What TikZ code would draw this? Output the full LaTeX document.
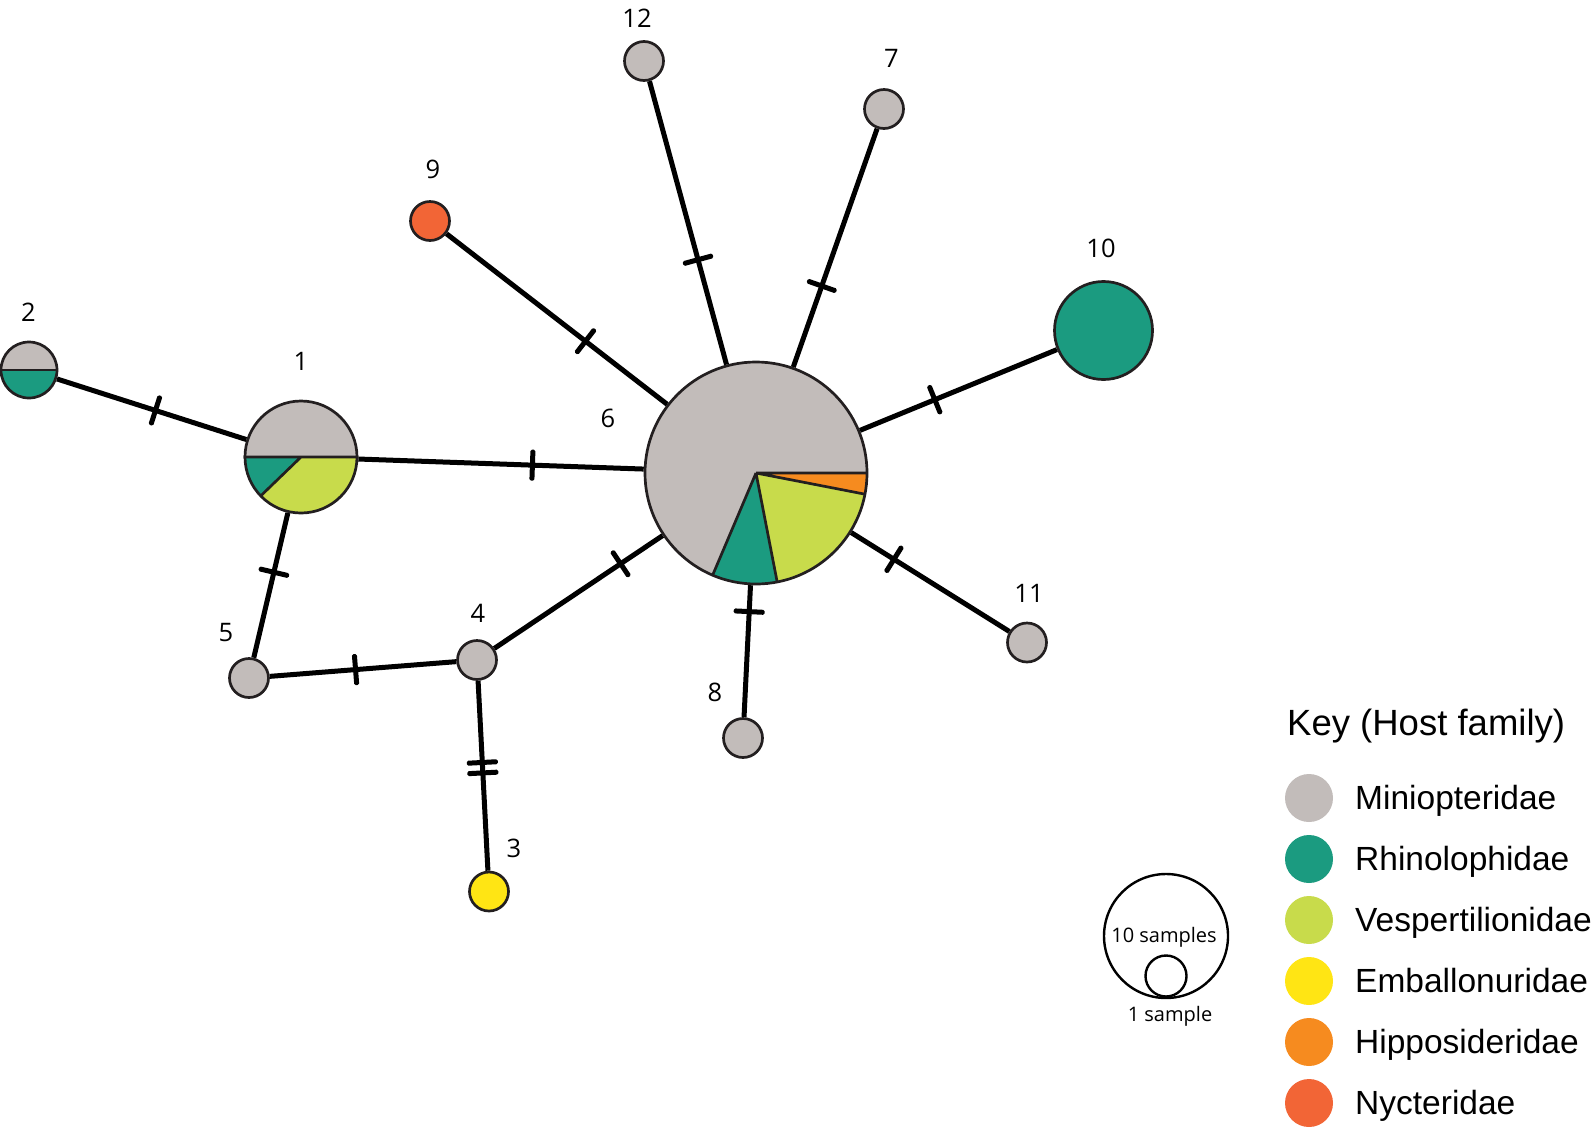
\documentclass[tikz,border=0pt]{standalone}
\usepackage{fontspec}
\setmainfont{Liberation Sans}
\newfontfamily\numfont{Open Sans}
\definecolor{outline}{HTML}{231F20}
\definecolor{mini}{HTML}{C2BCBA}
\definecolor{rhino}{HTML}{1B9B80}
\definecolor{vesp}{HTML}{C8DB4B}
\definecolor{emba}{HTML}{FFE514}
\definecolor{hippo}{HTML}{F68B1F}
\definecolor{nyct}{HTML}{F26536}
\pgfdeclarelayer{bg}
\pgfsetlayers{bg,main}
\tikzset{
  hap/.style={circle,draw=outline,line width=2.7pt,inner sep=0pt,fill=mini},
  ring/.style={draw=outline,line width=2.7pt},
  edge/.style={line width=5pt,black},
  tick/.style={sloped,rectangle,rounded corners=1.5pt,fill=black,inner sep=0pt,minimum width=5pt,minimum height=31pt},
  num/.style={font=\numfont\fontsize{25.5}{30}\selectfont,inner sep=0pt},
  keytext/.style={font=\fontsize{33.5}{40}\selectfont,anchor=base west,inner sep=0pt},
  scaletext/.style={font=\numfont\fontsize{20}{24}\selectfont,anchor=base,inner sep=0pt},
}
\newcommand{\slice}[5]{\fill[#5] (#1.center) -- ++(#2:#4) arc[start angle=#2,end angle=#3,radius=#4] -- cycle;}
\begin{document}
\begin{tikzpicture}[x=1pt,y=-1pt]
\useasboundingbox (0,0) rectangle (1594,1128);
% haplotypes
\node[hap,minimum size=222pt,draw=none,fill=none] (h6) at (756,473) {};
\node[hap,minimum size=112pt,draw=none,fill=none] (h1) at (301,457) {};
\node[hap,minimum size=56pt,draw=none,fill=none] (h2) at (29,370) {};
\node[hap,minimum size=98pt,fill=rhino] (h10) at (1103.5,330.5) {};
\foreach \n/\x/\y/\c in {3/489/891.5/emba, 4/477/660/mini, 5/249/678/mini, 7/884/109/mini,
  8/743/738/mini, 9/430/221/nyct, 11/1027/642.5/mini, 12/644/61/mini}
  \node[hap,minimum size=39pt,fill=\c] (h\n) at (\x,\y) {};
% pie 6
\slice{h6}{0}{11}{111}{hippo}
\slice{h6}{11}{79}{111}{vesp}
\slice{h6}{79}{113}{111}{rhino}
\slice{h6}{113}{360}{111}{mini}
\draw[ring] (h6.center) -- ++(0:111) (h6.center) -- ++(11:111)
  (h6.center) -- ++(79:111) (h6.center) -- ++(113:111);
\draw[ring] (h6.center) circle[radius=111];
% pie 1
\slice{h1}{180}{360}{56}{mini}
\slice{h1}{136}{180}{56}{rhino}
\slice{h1}{0}{136}{56}{vesp}
\draw[ring] (h1.west) -- (h1.east) (h1.center) -- ++(136:56);
\draw[ring] (h1.center) circle[radius=56];
% pie 2
\slice{h2}{180}{360}{28}{mini}
\slice{h2}{0}{180}{28}{rhino}
\draw[ring] (h2.west) -- (h2.east);
\draw[ring] (h2.center) circle[radius=28];
% links with mutation ticks
\begin{pgfonlayer}{bg}
\draw[edge] (h2) -- node[tick,pos=0.52]{} (h1);
\draw[edge] (h1) -- node[tick,pos=0.61]{} (h6);
\draw[edge] (h9) -- node[tick,pos=0.63]{} (h6);
\draw[edge] (h12) -- node[tick,pos=0.63]{} (h6);
\draw[edge] (h7) -- node[tick,pos=0.66]{} (h6);
\draw[edge] (h10) -- node[tick,pos=0.62]{} (h6);
\draw[edge] (h6) -- node[tick,pos=0.27]{} (h11);
\draw[edge] (h6) -- node[tick,pos=0.2]{} (h8);
\draw[edge] (h6) -- node[tick,pos=0.25]{} (h4);
\draw[edge] (h1) -- node[tick,pos=0.41]{} (h5);
\draw[edge] (h5) -- node[tick,pos=0.46]{} (h4);
\draw[edge] (h4) -- node[tick,pos=0.43]{} node[tick,pos=0.485]{} (h3);
\end{pgfonlayer}
% haplotype numbers
\foreach \n/\x/\y in {1/301/361, 2/28.5/312, 3/514/848, 4/478/613, 5/226/633, 6/608/418,
  7/891.5/58, 8/715/692, 9/433/169, 10/1101/248.5, 11/1029/593, 12/637/18.5}
  \node[num] (l\n) at (\x,\y) {\n};
% key
\node[font=\fontsize{36.5}{44}\selectfont,anchor=base west,inner sep=0pt] (key) at (1287,735) {Key (Host family)};
\foreach \name/\c [count=\i from 0] in {Miniopteridae/mini, Rhinolophidae/rhino,
  Vespertilionidae/vesp, Emballonuridae/emba, Hipposideridae/hippo, Nycteridae/nyct} {
  \node[circle,fill=\c,minimum size=48pt,inner sep=0pt] (k\i) at (1309,{798+61*\i}) {};
  \node[keytext] (t\i) at (1355,{809+61*\i}) {\name};
}
% sample size scale
\node[circle,draw=black,line width=2.4pt,minimum size=124pt,inner sep=0pt] (s10) at (1166,936) {};
\node[circle,draw=black,line width=2.4pt,minimum size=41pt,inner sep=0pt] (s1) at (1166,976) {};
\node[scaletext] (t10) at (1164,942) {10 samples};
\node[scaletext] (t1) at (1170,1021) {1 sample};
\end{tikzpicture}
\end{document}
